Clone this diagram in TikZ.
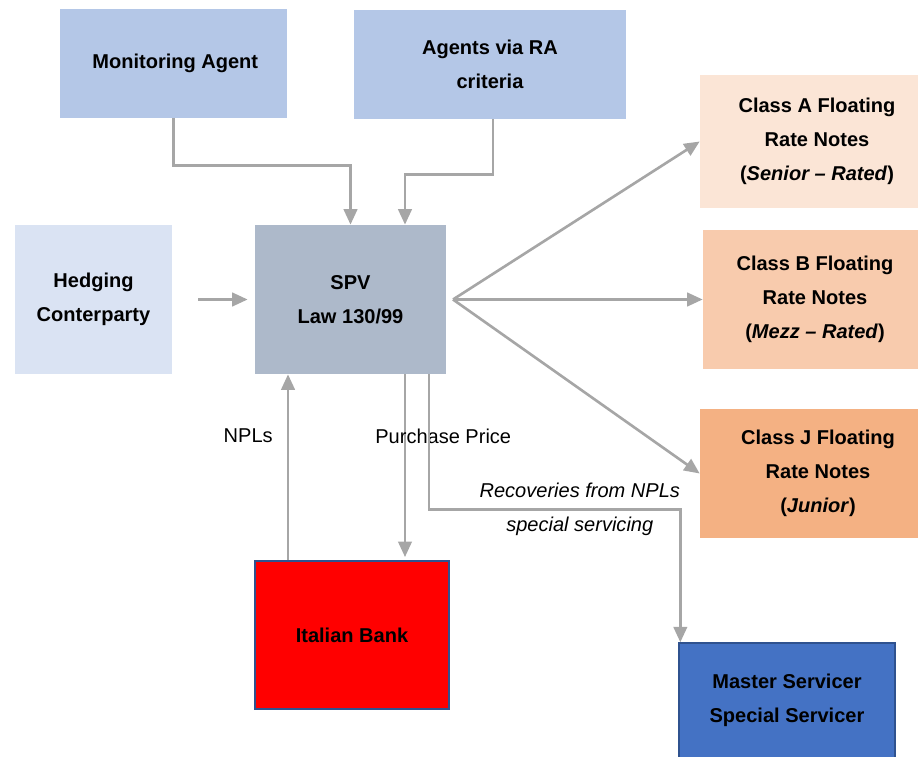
\documentclass[tikz,border=0pt]{standalone}
\usepackage{fontspec}
\setmainfont{Liberation Sans}
\usepackage{tikz}
\usetikzlibrary{arrows.meta}
\definecolor{AgentBlue}{RGB}{180,199,231}
\definecolor{HedgeBlue}{RGB}{218,227,243}
\definecolor{SpvGrey}{RGB}{173,185,202}
\definecolor{NoteA}{RGB}{251,229,214}
\definecolor{NoteB}{RGB}{248,203,173}
\definecolor{NoteJ}{RGB}{244,177,131}
\definecolor{BankRed}{RGB}{255,0,0}
\definecolor{ServBlue}{RGB}{68,114,196}
\definecolor{EdgeBlue}{RGB}{47,82,143}
\definecolor{FlowGrey}{RGB}{166,166,166}
\newcommand*{\boxfont}{\fontsize{11.4}{19.35}\selectfont}
\tikzset{%
  box/.style={rectangle, align=center, inner sep=0pt, font=\boxfont\bfseries},
  flow/.style={draw=FlowGrey, line width=1.5pt, -{Triangle[length=0.31cm,width=0.27cm]}},
  lbl/.style={inner sep=2pt, font=\boxfont}
}

\begin{document}
\begin{tikzpicture}[x=0.02cm,y=-0.02cm]
    \useasboundingbox (0,0) rectangle (918,756);
    % Agents on top.
    \node[box, fill=AgentBlue, minimum width=4.54cm, minimum height=2.18cm] (mon) at (173.5,63.5) {\hspace*{0.07cm}Monitoring Agent};
    \node[box, fill=AgentBlue, minimum width=5.44cm, minimum height=2.18cm] (ra) at (490,64.5) {Agents via RA\\criteria};
    % Middle row.
    \node[box, fill=HedgeBlue, minimum width=3.14cm, minimum height=2.98cm] (hedge) at (93.5,299.5) {Hedging\\Conterparty};
    \node[box, fill=SpvGrey, minimum width=3.82cm, minimum height=2.98cm] (spv) at (350.5,299.5) {SPV\\Law 130/99};
    % Notes (cut by the right edge).
    \node[box, fill=NoteA, minimum width=4.68cm, minimum height=2.66cm] (clsA) at (817,141.5) {Class A Floating\\Rate Notes\\(\textit{Senior – Rated})};
    \node[box, fill=NoteB, minimum width=4.48cm, minimum height=2.78cm] (clsB) at (815,299.5) {Class B Floating\\Rate Notes\\(\textit{Mezz – Rated})};
    \node[box, fill=NoteJ, minimum width=4.72cm, minimum height=2.58cm] (clsJ) at (818,473.5) {Class J Floating\\Rate Notes\\(\textit{Junior})};
    % Bottom row.
    \node[box, fill=BankRed, draw=EdgeBlue, line width=1.1pt, minimum width=3.88cm, minimum height=2.96cm] (bank) at (352,635) {Italian Bank};
    \node[box, fill=ServBlue, draw=EdgeBlue, line width=0.8pt, minimum width=4.32cm, minimum height=2.30cm] (master) at (787,700.5) {Master Servicer\\Special Servicer};
    % Flows into the SPV.
    \draw[flow] (mon.south) -- ++(0,47) -| (spv.north);
    \draw[flow] ([xshift=0.06cm]ra.south) -- ++(0,55) -| ([xshift=1.09cm]spv.north);
    \draw[flow, shorten <=0.52cm, shorten >=0.14cm] (hedge.east) -- (spv.west);
    % Notes fan.
    \coordinate (fan) at (453,299.5);
    \foreach \n in {clsA,clsB,clsJ}
      \draw[flow] (fan) -- (\n.west);
    % Bank and servicer.
    \coordinate (npl) at ([xshift=-1.28cm]bank.north);
    \coordinate (pay) at ([xshift=1.06cm]bank.north);
    \coordinate (rec) at ([xshift=1.57cm]spv.south);
    \draw[flow] (npl) -- (npl |- spv.south)
      node[lbl, pos=0.667, left=0.21cm] (nplLbl) {NPLs};
    \draw[flow, shorten >=0.06cm] (pay |- spv.south) -- (pay)
      node[lbl, pos=0.333, anchor=west, xshift=-0.69cm] (payLbl) {Purchase Price};
    \draw[flow] (rec) -- ++(0,135) -| ([xshift=0.04cm]master.north west)
      node[lbl, pos=0.3, above=3.7pt] (recLbl) {\itshape Recoveries from NPLs}
      node[lbl, pos=0.3, below=1.7pt] (svcLbl) {\itshape special servicing};
\end{tikzpicture}
\end{document}
